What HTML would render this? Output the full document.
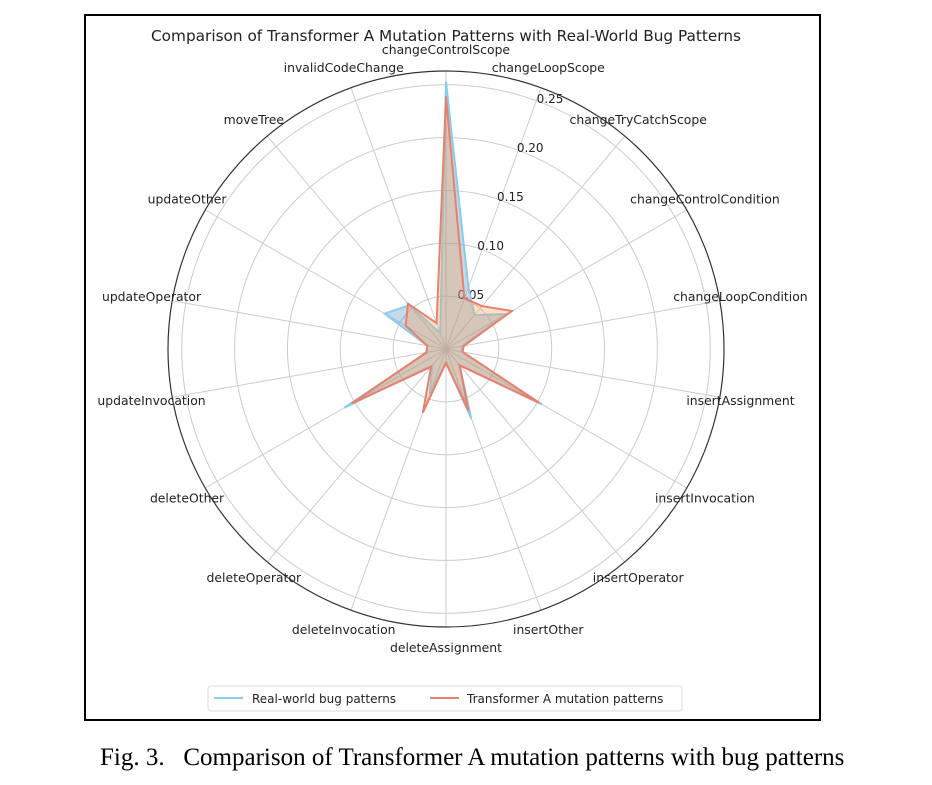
<!DOCTYPE html>
<html><head><meta charset="utf-8"><style>
body{margin:0;background:#fff;width:932px;height:780px;overflow:hidden}
svg text{font-family:"DejaVu Sans","Liberation Sans",sans-serif}
</style></head><body>
<svg width="932" height="780" viewBox="0 0 932 780">
<rect x="85" y="15" width="735" height="705" fill="#fff" stroke="#000" stroke-width="2"/>
<text x="446" y="41" font-size="15.3" text-anchor="middle" fill="#222">Comparison of Transformer A Mutation Patterns with Real-World Bug Patterns</text>
<g id="grid"></g>
<g id="series"></g>
<g id="labels"></g>
<g>
<rect x="208" y="686" width="474" height="25" rx="3" fill="#fff" stroke="#ddd"/>
<line x1="214" y1="698" x2="243" y2="698" stroke="#87CEEB" stroke-width="2"/>
<text x="252" y="703" font-size="12" fill="#222">Real-world bug patterns</text>
<line x1="430" y1="698" x2="459" y2="698" stroke="#E8806E" stroke-width="2"/>
<text x="467" y="703" font-size="12" fill="#222">Transformer A mutation patterns</text>
</g>
<text x="100" y="765" font-size="25" fill="#000" style="font-family:'Liberation Serif',serif;white-space:pre">Fig. 3.   Comparison of Transformer A mutation patterns with bug patterns</text>
</svg>
<script>
const categories=["changeControlScope","changeLoopScope","changeTryCatchScope","changeControlCondition","changeLoopCondition","insertAssignment","insertInvocation","insertOperator","insertOther","deleteAssignment","deleteInvocation","deleteOperator","deleteOther","updateInvocation","updateOperator","updateOther","moveTree","invalidCodeChange"];
const realWorld=[0.253,0.062,0.042,0.066,0.015,0.015,0.105,0.02,0.070,0.013,0.045,0.02,0.111,0.018,0.018,0.067,0.054,0.016];
const transformerA=[0.239,0.051,0.053,0.072,0.017,0.016,0.102,0.02,0.062,0.013,0.064,0.022,0.103,0.019,0.018,0.044,0.056,0.026];
const radialTicks=[0.05,0.10,0.15,0.20,0.25];
const tickLabels=["0.05","0.10","0.15","0.20","0.25"];
const rMax=0.263;
const CX=446,CY=349,R=278;
const NS="http://www.w3.org/2000/svg";
function rScale(v){return v/rMax*R;}
function angle(i){return i*2*Math.PI/categories.length;}
function pt(i,v){const a=angle(i),r=rScale(v);return [CX+r*Math.sin(a),CY-r*Math.cos(a)];}
function mk(tag,attrs,parent){const e=document.createElementNS(NS,tag);for(const k in attrs)e.setAttribute(k,attrs[k]);parent.appendChild(e);return e;}
const grid=document.getElementById('grid');
radialTicks.forEach((t,k)=>{
  const c=mk('circle',{cx:CX,cy:CY,r:rScale(t),fill:'none',stroke:'#ccc','stroke-width':1},grid);
  
  
});
categories.forEach((c,i)=>{
  const p=pt(i,rMax);
  const l=mk('line',{x1:CX,y1:CY,x2:p[0],y2:p[1],stroke:'#ccc','stroke-width':1},grid);
  
  
});
const outer=mk('circle',{cx:CX,cy:CY,r:R,fill:'none',stroke:'#333','stroke-width':1.2},grid);


const ser=document.getElementById('series');
function poly(vals,fill,fo,stroke,name){
  const pts=vals.map((v,i)=>pt(i,v).join(',')).join(' ');
  const p=mk('polygon',{points:pts,fill:fill,'fill-opacity':fo,stroke:stroke,'stroke-width':2,'stroke-linejoin':'miter'},ser);
  
  
}
poly(realWorld,'#4682B4',0.3,'#87CEEB','series-real-world');
poly(transformerA,'#F4A460',0.35,'#E8806E','series-transformer-a');
const tickAng=22*Math.PI/180;
radialTicks.forEach((t,k)=>{
  const r=rScale(t);
  const tx=mk('text',{x:CX+r*Math.sin(tickAng)+5,y:CY-r*Math.cos(tickAng)-1,'font-size':12,'text-anchor':'middle',fill:'#222'},grid);
  tx.textContent=tickLabels[k];
  
  
});
const lab=document.getElementById('labels');
categories.forEach((c,i)=>{
  const a=angle(i),r=R+21;
  const t=mk('text',{x:CX+r*Math.sin(a),y:CY-r*Math.cos(a)+4,'font-size':12.4,'text-anchor':'middle',fill:'#222'},lab);
  t.textContent=c;
  
  
});
</script>
</body></html>
